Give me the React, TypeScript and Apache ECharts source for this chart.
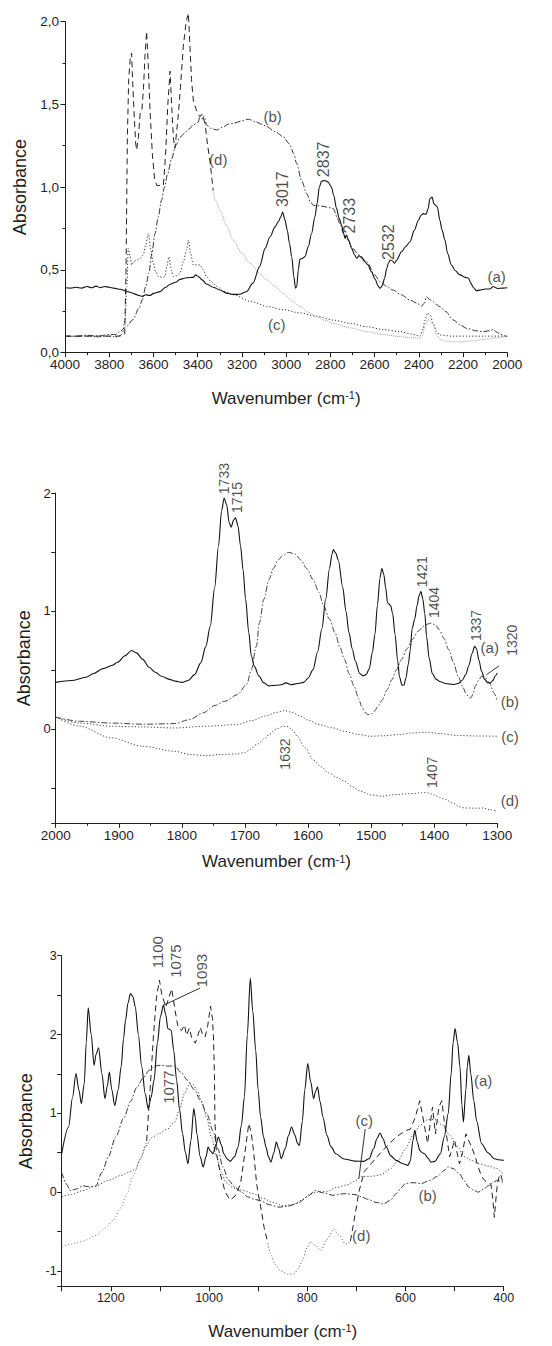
import React, { useEffect, useRef } from "react";
import * as echarts from "echarts";

// ---------- Panel 1 (4000–2000 cm-1) ----------
const p1A: number[][] = [[4000,0.392],[3975,0.39],[3950,0.395],[3925,0.39],[3900,0.4],[3880,0.392],[3860,0.402],[3840,0.393],[3820,0.4],[3800,0.395],[3780,0.39],[3750,0.383],[3720,0.37],[3700,0.362],[3680,0.352],[3665,0.345],[3650,0.34],[3635,0.35],[3616,0.345],[3600,0.358],[3570,0.369],[3545,0.395],[3525,0.413],[3500,0.425],[3480,0.443],[3450,0.453],[3420,0.455],[3410,0.47],[3395,0.458],[3380,0.44],[3360,0.415],[3330,0.395],[3300,0.379],[3270,0.36],[3240,0.352],[3210,0.353],[3180,0.368],[3150,0.42],[3120,0.52],[3095,0.63],[3073,0.7],[3050,0.76],[3036,0.79],[3024,0.82],[3016,0.85],[3005,0.8],[2995,0.74],[2985,0.66],[2975,0.58],[2965,0.46],[2958,0.39],[2952,0.4],[2945,0.5],[2938,0.564],[2925,0.57],[2915,0.58],[2900,0.64],[2885,0.72],[2870,0.82],[2860,0.9],[2850,1.0],[2840,1.035],[2825,1.04],[2810,1.03],[2795,1.0],[2785,0.95],[2772,0.87],[2760,0.81],[2749,0.77],[2740,0.72],[2734,0.69],[2727,0.71],[2718,0.68],[2704,0.63],[2690,0.59],[2681,0.57],[2670,0.585],[2660,0.575],[2645,0.55],[2630,0.53],[2615,0.49],[2598,0.445],[2585,0.405],[2576,0.389],[2565,0.405],[2555,0.45],[2545,0.51],[2538,0.54],[2530,0.56],[2520,0.555],[2510,0.54],[2500,0.56],[2478,0.61],[2460,0.64],[2440,0.67],[2420,0.74],[2402,0.8],[2390,0.83],[2380,0.84],[2368,0.835],[2358,0.87],[2350,0.93],[2340,0.94],[2332,0.9],[2325,0.89],[2316,0.88],[2305,0.8],[2295,0.74],[2282,0.68],[2270,0.6],[2253,0.53],[2235,0.495],[2214,0.47],[2190,0.455],[2175,0.45],[2165,0.42],[2154,0.395],[2140,0.375],[2124,0.378],[2100,0.385],[2078,0.385],[2063,0.4],[2055,0.395],[2045,0.388],[2020,0.39],[2000,0.392]];
const p1B: number[][] = [[4000,0.1],[3950,0.1],[3900,0.105],[3850,0.1],[3800,0.11],[3770,0.11],[3750,0.13],[3720,0.16],[3693,0.2],[3665,0.27],[3650,0.32],[3635,0.4],[3621,0.48],[3607,0.6],[3593,0.72],[3578,0.82],[3564,0.92],[3550,1.0],[3536,1.08],[3518,1.17],[3500,1.25],[3480,1.3],[3464,1.32],[3440,1.35],[3420,1.375],[3400,1.39],[3386,1.435],[3378,1.41],[3371,1.43],[3360,1.375],[3340,1.355],[3314,1.345],[3290,1.36],[3260,1.38],[3239,1.385],[3200,1.4],[3171,1.41],[3140,1.395],[3110,1.38],[3088,1.365],[3050,1.335],[3013,1.304],[2985,1.26],[2965,1.2],[2953,1.144],[2930,1.04],[2907,0.96],[2890,0.91],[2877,0.89],[2840,0.885],[2800,0.875],[2787,0.87],[2770,0.82],[2757,0.78],[2740,0.72],[2720,0.68],[2700,0.63],[2670,0.59],[2636,0.55],[2600,0.47],[2576,0.43],[2545,0.4],[2516,0.378],[2480,0.35],[2440,0.318],[2410,0.3],[2387,0.282],[2375,0.3],[2365,0.338],[2350,0.32],[2335,0.308],[2320,0.29],[2305,0.278],[2280,0.25],[2244,0.197],[2210,0.165],[2184,0.147],[2140,0.132],[2109,0.127],[2080,0.133],[2063,0.14],[2050,0.125],[2030,0.11],[2000,0.097]];
const p1C: number[][] = [[4000,0.1],[3950,0.098],[3900,0.1],[3850,0.095],[3800,0.1],[3770,0.095],[3751,0.097],[3740,0.12],[3729,0.2],[3720,0.4],[3714,0.63],[3705,0.58],[3699,0.53],[3688,0.55],[3676,0.56],[3660,0.57],[3646,0.59],[3635,0.65],[3623,0.72],[3612,0.62],[3601,0.54],[3590,0.49],[3578,0.46],[3560,0.455],[3548,0.46],[3540,0.52],[3530,0.58],[3520,0.5],[3510,0.46],[3495,0.465],[3480,0.48],[3465,0.55],[3450,0.62],[3442,0.68],[3432,0.6],[3420,0.53],[3405,0.53],[3390,0.53],[3375,0.5],[3360,0.46],[3340,0.43],[3314,0.4],[3280,0.37],[3239,0.35],[3160,0.31],[3088,0.28],[3013,0.26],[2938,0.24],[2862,0.22],[2787,0.197],[2710,0.177],[2636,0.157],[2560,0.14],[2486,0.127],[2430,0.112],[2395,0.1],[2380,0.15],[2373,0.197],[2360,0.24],[2350,0.23],[2335,0.18],[2320,0.13],[2305,0.107],[2250,0.1],[2184,0.1],[2100,0.1],[2000,0.1]];
const p1Ddash: number[][] = [[4000,0.1],[3850,0.1],[3760,0.1],[3730,0.11],[3724,0.5],[3718,1.3],[3712,1.65],[3705,1.78],[3699,1.81],[3693,1.6],[3686,1.4],[3680,1.26],[3676,1.224],[3668,1.3],[3660,1.45],[3652,1.47],[3645,1.6],[3638,1.8],[3631,1.94],[3624,1.75],[3615,1.45],[3605,1.2],[3595,1.05],[3585,1.01],[3570,1.01],[3555,1.01],[3545,1.2],[3535,1.5],[3525,1.7],[3518,1.5],[3510,1.3],[3503,1.234],[3490,1.4],[3478,1.6],[3465,1.85],[3452,2.0],[3442,2.05],[3435,1.85],[3428,1.65],[3420,1.526],[3405,1.46],[3390,1.425],[3380,1.44],[3367,1.385],[3355,1.25],[3345,1.164],[3330,0.98]];
const p1Ddot: number[][] = [[3330,0.98],[3320,0.92],[3299,0.86],[3270,0.77],[3239,0.68],[3200,0.6],[3164,0.54],[3120,0.48],[3088,0.44],[3050,0.4],[3013,0.358],[2975,0.315],[2938,0.278],[2900,0.245],[2862,0.217],[2825,0.195],[2787,0.177],[2710,0.15],[2636,0.127],[2560,0.11],[2486,0.097],[2430,0.09],[2395,0.087],[2385,0.1],[2373,0.157],[2360,0.2],[2350,0.197],[2340,0.18],[2335,0.167],[2320,0.11],[2305,0.08],[2280,0.07],[2250,0.066],[2214,0.066],[2150,0.072],[2109,0.08],[2050,0.09],[2000,0.1]];
const p1PeakLabels: [number, number, string][] = [[3017,0.88,"3017"],[2830,1.06,"2837"],[2715,0.72,"2733"],[2535,0.56,"2532"]];
const p1CurveLabels: [number, number, string][] = [[2048,0.463,"(a)"],[3061,1.425,"(b)"],[3043,0.173,"(c)"],[3307,1.164,"(d)"]];
const p1YTicks = { min: 0, max: 2, step: 0.5 };
const p1XTicks = { min: 2000, max: 4000, step: 200 };

// ---------- Panel 2 (2000–1300 cm-1) ----------
const p2A: number[][] = [[2000,0.395],[1975,0.41],[1952,0.438],[1940,0.47],[1925,0.511],[1910,0.54],[1902,0.565],[1890,0.62],[1880,0.665],[1872,0.645],[1862,0.59],[1852,0.523],[1842,0.48],[1832,0.446],[1820,0.42],[1810,0.405],[1800,0.395],[1790,0.41],[1780,0.46],[1770,0.56],[1762,0.7],[1755,0.87],[1748,1.2],[1742,1.548],[1737,1.85],[1733,1.958],[1729,1.9],[1725,1.75],[1722,1.71],[1718,1.77],[1715,1.79],[1711,1.72],[1707,1.55],[1703,1.35],[1699,1.1],[1694,0.82],[1690,0.62],[1685,0.53],[1678,0.45],[1670,0.39],[1662,0.365],[1650,0.37],[1642,0.375],[1635,0.39],[1627,0.375],[1617,0.385],[1607,0.395],[1600,0.43],[1592,0.503],[1585,0.65],[1578,0.85],[1572,1.1],[1566,1.36],[1562,1.48],[1560,1.52],[1556,1.49],[1552,1.43],[1545,1.2],[1540,1.0],[1535,0.814],[1530,0.68],[1525,0.575],[1518,0.47],[1513,0.45],[1508,0.46],[1503,0.51],[1498,0.65],[1494,0.8],[1490,1.05],[1486,1.28],[1483,1.36],[1480,1.31],[1477,1.2],[1474,1.07],[1469,1.045],[1466,0.98],[1462,0.8],[1458,0.58],[1455,0.44],[1451,0.37],[1448,0.37],[1445,0.43],[1441,0.55],[1438,0.67],[1435,0.85],[1431,0.93],[1427,1.05],[1424,1.13],[1421,1.165],[1418,1.1],[1415,0.98],[1412,0.78],[1408,0.6],[1403,0.47],[1397,0.42],[1390,0.4],[1382,0.385],[1375,0.38],[1369,0.377],[1362,0.385],[1356,0.41],[1350,0.46],[1345,0.54],[1340,0.64],[1336,0.7],[1333,0.68],[1329,0.58],[1325,0.49],[1320,0.42],[1315,0.39],[1311,0.39],[1307,0.41],[1303,0.45],[1300,0.475]];
const p2B: number[][] = [[2000,0.1],[1962,0.065],[1912,0.05],[1862,0.04],[1812,0.045],[1787,0.08],[1767,0.135],[1747,0.2],[1732,0.234],[1712,0.29],[1697,0.38],[1690,0.5],[1682,0.7],[1677,0.9],[1670,1.1],[1662,1.266],[1655,1.36],[1647,1.435],[1640,1.47],[1630,1.497],[1620,1.48],[1612,1.435],[1602,1.36],[1592,1.266],[1583,1.16],[1575,1.04],[1566,0.93],[1557,0.814],[1550,0.7],[1542,0.588],[1535,0.47],[1527,0.362],[1520,0.26],[1515,0.192],[1510,0.14],[1505,0.121],[1500,0.125],[1495,0.15],[1488,0.2],[1482,0.249],[1475,0.33],[1467,0.418],[1460,0.5],[1452,0.588],[1443,0.68],[1435,0.757],[1425,0.83],[1417,0.87],[1410,0.89],[1405,0.898],[1398,0.88],[1392,0.842],[1385,0.77],[1377,0.672],[1370,0.57],[1362,0.446],[1355,0.36],[1350,0.305],[1345,0.27],[1342,0.262],[1338,0.3],[1335,0.362],[1330,0.41],[1325,0.446],[1320,0.44],[1312,0.39],[1306,0.31],[1300,0.234]];
const p2C: number[][] = [[2000,0.1],[1962,0.05],[1912,0.023],[1862,0.017],[1812,0.008],[1762,0.023],[1712,0.037],[1690,0.07],[1667,0.11],[1650,0.14],[1637,0.155],[1625,0.14],[1612,0.107],[1600,0.075],[1582,0.037],[1562,0.01],[1542,-0.02],[1522,-0.045],[1502,-0.062],[1480,-0.058],[1457,-0.048],[1435,-0.035],[1412,-0.028],[1390,-0.04],[1362,-0.056],[1330,-0.06],[1300,-0.062]];
const p2D: number[][] = [[2000,0.1],[1962,0.023],[1912,-0.076],[1862,-0.147],[1812,-0.189],[1787,-0.217],[1762,-0.226],[1737,-0.217],[1712,-0.212],[1700,-0.2],[1692,-0.175],[1682,-0.133],[1667,-0.076],[1662,-0.048],[1650,0.0],[1640,0.023],[1632,0.02],[1625,-0.01],[1617,-0.062],[1605,-0.16],[1592,-0.26],[1580,-0.32],[1567,-0.373],[1555,-0.41],[1542,-0.444],[1530,-0.49],[1517,-0.528],[1500,-0.56],[1482,-0.571],[1470,-0.56],[1457,-0.556],[1445,-0.55],[1432,-0.548],[1420,-0.54],[1410,-0.542],[1400,-0.56],[1390,-0.585],[1382,-0.599],[1370,-0.63],[1360,-0.66],[1352,-0.67],[1335,-0.672],[1322,-0.67],[1312,-0.685],[1300,-0.698]];
const p2PeakLabels: [number, number, string][] = [[1733,1.99,"1733"],[1712,1.83,"1715"],[1420,1.2,"1421"],[1400,0.94,"1404"],[1334,0.745,"1337"],[1276,0.62,"1320"],[1636,-0.345,"1632"],[1403,-0.5,"1407"]];
const p2CurveLabels: [number, number, string][] = [[1312,0.69,"(a)"],[1280,0.234,"(b)"],[1280,-0.062,"(c)"],[1280,-0.607,"(d)"]];
const p2Leaders: number[][][] = [[[1280,0.6],[1317,0.46]]];

// ---------- Panel 3 (1300–400 cm-1) ----------
const p3A: number[][] = [[1300,0.487],[1286,0.826],[1278,1.2],[1271,1.504],[1265,1.3],[1260,1.123],[1254,1.377],[1250,1.9],[1246,2.339],[1240,2.0],[1234,1.61],[1230,1.75],[1225,1.83],[1218,1.5],[1212,1.186],[1207,1.35],[1203,1.525],[1198,1.3],[1192,1.1],[1185,1.3],[1179,1.589],[1174,1.95],[1170,2.182],[1165,2.4],[1160,2.52],[1155,2.48],[1150,2.35],[1144,2.0],[1137,1.589],[1130,1.25],[1124,1.059],[1118,1.2],[1112,1.419],[1105,1.9],[1099,2.225],[1093,2.373],[1088,2.25],[1084,2.076],[1077,2.055],[1072,1.8],[1066,1.419],[1060,1.05],[1054,0.742],[1048,0.5],[1043,0.36],[1037,0.65],[1031,1.059],[1028,0.95],[1025,0.742],[1018,0.45],[1012,0.318],[1006,0.45],[1002,0.572],[997,0.52],[992,0.487],[986,0.6],[981,0.7],[975,0.6],[970,0.487],[963,0.42],[957,0.39],[948,0.45],[941,0.572],[934,0.85],[928,1.208],[922,2.0],[916,2.712],[911,2.3],[905,1.8],[900,1.3],[895,0.953],[889,0.7],[884,0.572],[879,0.45],[874,0.381],[868,0.5],[863,0.636],[858,0.55],[853,0.424],[845,0.55],[838,0.72],[832,0.826],[825,0.72],[820,0.62],[816,0.593],[810,0.9],[805,1.3],[799,1.631],[793,1.4],[787,1.186],[783,1.28],[779,1.335],[774,1.15],[768,0.953],[760,0.72],[752,0.58],[742,0.487],[725,0.42],[703,0.394],[685,0.39],[674,0.424],[665,0.55],[658,0.68],[652,0.75],[646,0.68],[639,0.572],[630,0.46],[619,0.403],[605,0.36],[595,0.34],[590,0.4],[585,0.65],[581,0.784],[576,0.64],[571,0.53],[566,0.5],[561,0.487],[554,0.43],[548,0.381],[540,0.39],[529,0.487],[521,0.7],[513,0.996],[507,1.5],[503,1.9],[499,2.076],[494,1.9],[489,1.589],[485,1.1],[482,0.89],[477,1.3],[474,1.6],[471,1.737],[467,1.5],[461,1.165],[455,0.9],[445,0.614],[432,0.5],[419,0.424],[410,0.41],[400,0.403]];
const p3B: number[][] = [[1300,0.25],[1290,0.1],[1283,0.02],[1270,0.04],[1257,0.08],[1245,0.07],[1231,0.07],[1218,0.25],[1205,0.45],[1190,0.7],[1173,0.95],[1160,1.15],[1147,1.33],[1134,1.45],[1121,1.55],[1110,1.6],[1099,1.61],[1085,1.6],[1070,1.6],[1057,1.52],[1044,1.42],[1030,1.3],[1018,1.17],[1005,1.0],[992,0.78],[982,0.55],[972,0.32],[960,0.15],[947,0.06],[934,0.0],[921,-0.06],[908,-0.09],[895,-0.11],[877,-0.16],[858,-0.19],[840,-0.18],[819,-0.14],[800,-0.06],[784,0.02],[766,-0.01],[748,-0.04],[725,-0.02],[703,-0.03],[690,-0.06],[677,-0.09],[660,-0.13],[645,-0.15],[630,-0.1],[619,-0.02],[608,0.06],[600,0.11],[585,0.12],[568,0.11],[550,0.15],[535,0.2],[520,0.28],[513,0.32],[503,0.3],[490,0.23],[480,0.14],[471,0.06],[460,0.02],[452,0.0],[440,0.04],[432,0.08],[420,0.13],[413,0.15],[400,0.12]];
const p3C: number[][] = [[1300,-0.06],[1280,-0.03],[1257,0.02],[1230,0.08],[1205,0.15],[1180,0.21],[1160,0.26],[1148,0.3],[1140,0.42],[1130,0.58],[1115,0.7],[1100,0.75],[1085,0.8],[1070,0.89],[1060,1.05],[1050,1.25],[1040,1.37],[1033,1.37],[1025,1.3],[1015,1.15],[1005,0.95],[995,0.7],[985,0.45],[975,0.25],[965,0.12],[950,0.05],[930,0.02],[910,-0.02],[890,-0.08],[870,-0.13],[850,-0.17],[830,-0.16],[810,-0.1],[795,-0.03],[780,0.0],[760,0.01],[740,0.06],[720,0.09],[700,0.15],[690,0.2],[670,0.2],[650,0.22],[630,0.3],[615,0.4],[600,0.55],[585,0.72],[570,0.85],[555,0.92],[540,0.92],[525,0.85],[510,0.72],[495,0.58],[480,0.45],[465,0.4],[450,0.36],[430,0.33],[415,0.3],[400,0.22]];
const p3Ddot1: number[][] = [[1300,-0.69],[1280,-0.66],[1256,-0.62],[1230,-0.55],[1210,-0.45],[1195,-0.36],[1180,-0.2],[1167,-0.02],[1155,0.2],[1140,0.42],[1127,0.65]];
const p3Ddash1: number[][] = [[1127,0.65],[1120,1.3],[1113,2.0],[1107,2.47],[1101,2.69],[1096,2.5],[1088,2.35],[1080,2.5],[1076,2.58],[1069,2.3],[1063,2.09],[1056,2.05],[1050,2.12],[1046,1.99],[1040,2.08],[1035,1.95],[1028,1.89],[1022,2.0],[1018,2.09],[1012,1.98],[1008,1.97],[1003,2.1],[997,2.36],[993,2.2],[991,1.97],[989,1.5],[988,0.9],[985,0.5],[977,0.23],[967,0.0],[957,-0.1],[947,-0.05],[936,0.1],[927,0.5],[919,0.87],[914,0.75],[909,0.5],[903,0.1],[899,-0.05],[893,-0.25],[888,-0.445],[880,-0.65]];
const p3Ddot2: number[][] = [[880,-0.65],[875,-0.78],[865,-0.92],[854,-1.0],[840,-1.04],[827,-1.04],[818,-0.97],[810,-0.87],[800,-0.7],[793,-0.63],[785,-0.67],[772,-0.74],[760,-0.6],[746,-0.47],[735,-0.55],[722,-0.66],[712,-0.62]];
const p3Ddash2: number[][] = [[712,-0.62],[703,-0.3],[695,0.0],[684,0.26],[670,0.36],[652,0.49],[635,0.6],[619,0.7],[600,0.78],[590,0.8],[580,0.95],[571,1.16],[566,1.0],[561,0.83],[555,0.62],[550,0.85],[545,1.08],[539,0.74],[532,1.08],[526,1.16],[521,0.9],[516,0.7],[510,0.45],[505,0.55],[500,0.66],[495,0.5],[490,0.36],[484,0.5],[477,0.74],[471,0.65],[465,0.57],[458,0.45],[452,0.32],[445,0.2],[439,0.15],[432,0.12],[426,0.1],[422,-0.1],[419,-0.32],[416,-0.1],[413,0.1],[409,0.2],[406,0.23],[403,0.15],[400,0.1]];
const p3PeakLabels: [number, number, string][] = [[1104,2.84,"1100"],[1068,2.72,"1075"],[1015,2.6,"1093"],[1082,1.12,"1077"]];
const p3CurveLabels: [number, number, string][] = [[442,1.42,"(a)"],[555,-0.042,"(b)"],[684,0.91,"(c)"],[690,-0.55,"(d)"]];
const p3Leaders: number[][][] = [[[1018,2.59],[1093,2.37]],[[682,0.8],[695,0.17]]];

const FONT = "'Liberation Sans', Arial, Helvetica, sans-serif";
const INK = "#1e1e1e";
const DASHDOT = [6, 2, 1.5, 2];
const DOT = [1.2, 2];
const DASH = [6, 4];

function line(idx: number, data: number[][], color: string, type: any, width = 1, smooth: number | boolean = 0.3) {
  return {
    type: "line", xAxisIndex: idx, yAxisIndex: idx, data, symbol: "none", showSymbol: false,
    smooth, smoothMonotone: "x", clip: false, silent: true,
    lineStyle: { color, width, type },
  };
}

function labels(idx: number, items: [number, number, string][], rotated: boolean, fontSize: number) {
  return {
    type: "scatter", xAxisIndex: idx, yAxisIndex: idx, symbol: "circle", symbolSize: 1,
    itemStyle: { color: "rgba(0,0,0,0)" }, clip: false, silent: true, z: 10,
    data: items.map(([x, y, t]) => ({
      value: [x, y],
      label: rotated
        ? { show: true, formatter: t, rotate: 90, position: "inside", align: "left", verticalAlign: "middle", fontSize, color: INK, fontFamily: FONT }
        : { show: true, formatter: t, position: "inside", align: "center", verticalAlign: "middle", fontSize, color: INK, fontFamily: FONT },
    })),
  };
}

function leader(idx: number, seg: number[][]) {
  return { type: "line", xAxisIndex: idx, yAxisIndex: idx, data: seg, symbol: "none", clip: false, silent: true,
    lineStyle: { color: INK, width: 0.9, type: "solid" } };
}

const isInt = (v: number) => Math.abs(v - Math.round(v)) < 1e-6;

function xAxis(idx: number, min: number, max: number, step: number, minor: boolean, nameGap: number, fmt: (v: number) => string, fontSize = 13.5) {
  return {
    gridIndex: idx, type: "value", min, max, interval: step, inverse: true,
    axisLine: { show: true, onZero: false, lineStyle: { color: INK, width: 1 } },
    axisTick: { show: true, length: 4.5, lineStyle: { color: INK, width: 1 } },
    minorTick: { show: minor, splitNumber: 2, length: 2.5, lineStyle: { color: INK, width: 1 } },
    axisLabel: { color: INK, fontSize, fontFamily: FONT, margin: 5, formatter: fmt },
    splitLine: { show: false }, minorSplitLine: { show: false },
    name: "Wavenumber (cm{sup|-1})", nameLocation: "middle", nameGap,
    nameTextStyle: { color: INK, fontSize: 17, fontFamily: FONT, rich: { sup: { fontSize: 11, verticalAlign: "top", fontFamily: FONT, color: INK, lineHeight: 14 } } },
  };
}

function yAxis(idx: number, extra: any, nameGap: number, fontSize: number) {
  return {
    gridIndex: idx, type: "value",
    axisLine: { show: true, onZero: false, lineStyle: { color: INK, width: 1 } },
    axisTick: { show: true, length: 4.5, lineStyle: { color: INK, width: 1 } },
    axisLabel: { color: INK, fontSize, fontFamily: FONT, margin: 5 },
    splitLine: { show: false },
    name: "Absorbance", nameLocation: "middle", nameGap,
    nameTextStyle: { color: INK, fontSize: 18, fontFamily: FONT },
    ...extra,
  };
}

const plain = (v: number) => String(Math.round(v));

export default function App() {
  const ref = useRef<HTMLDivElement>(null);
  useEffect(() => {
    if (!ref.current) return;
    const chart = echarts.init(ref.current, null, { renderer: "svg" });
    const option: any = {
      animation: false,
      backgroundColor: "#ffffff",
      grid: [
        { left: 65, top: 21.5, width: 442.3, height: 331.2 },
        { left: 55.7, top: 493, width: 441.6, height: 330.3 },
        { left: 61.7, top: 955.7, width: 442, height: 331 },
      ],
      xAxis: [
        xAxis(0, p1XTicks.min, p1XTicks.max, p1XTicks.step, true, 37, plain),
        xAxis(1, 1300, 2000, 100, true, 30, plain),
        xAxis(2, 400, 1300, 100, false, 36, (v: number) => (Math.round(v) % 200 === 0 ? plain(v) : ""), 12.5),
      ],
      yAxis: [
        yAxis(0, { min: p1YTicks.min, max: p1YTicks.max, interval: p1YTicks.step,
          minorTick: { show: true, splitNumber: 2, length: 2.5, lineStyle: { color: INK } },
          axisLabel: { color: INK, fontSize: 13.5, fontFamily: FONT, margin: 6, formatter: (v: number) => v.toFixed(1).replace(".", ",") } }, 28, 13.5),
        yAxis(1, { min: -0.8, max: 2, minInterval: 0.5, maxInterval: 0.5,
          axisLabel: { color: INK, fontSize: 13, fontFamily: FONT, margin: 5, formatter: (v: number) => (isInt(v) ? String(Math.round(v)) : "") } }, 19, 13),
        yAxis(2, { min: -1.2, max: 3, minInterval: 0.5, maxInterval: 0.5,
          axisLabel: { color: INK, fontSize: 12.5, fontFamily: FONT, margin: 5, formatter: (v: number) => (isInt(v) ? String(Math.round(v)) : "") } }, 24, 12.5),
      ],
      series: [
        line(0, p1C, "#333", DOT),
        line(0, p1Ddot, "#a0a0a0", [1, 1]),
        line(0, p1B, "#333", DASHDOT),
        line(0, p1Ddash, "#222", DASH, 1, false),
        line(0, p1A, "#111", "solid", 1.1),
        labels(0, p1PeakLabels, true, 16),
        labels(0, p1CurveLabels, false, 15),

        line(1, p2C, "#444", DOT),
        line(1, p2D, "#444", DOT),
        line(1, p2B, "#444", DASHDOT),
        line(1, p2A, "#111", "solid", 1.1),
        labels(1, p2PeakLabels, true, 14),
        labels(1, p2CurveLabels, false, 15),
        ...p2Leaders.map((s) => leader(1, s)),

        line(2, p3C, "#444", DOT),
        line(2, p3B, "#333", DASHDOT),
        line(2, p3Ddot1, "#8a8a8a", DOT),
        line(2, p3Ddot2, "#666", DOT),
        line(2, p3Ddash1, "#222", DASH, 1, false),
        line(2, p3Ddash2, "#222", DASH, 1, false),
        line(2, p3A, "#111", "solid", 1.1),
        labels(2, p3PeakLabels, true, 15),
        labels(2, p3CurveLabels, false, 15),
        ...p3Leaders.map((s) => leader(2, s)),
      ],
    };
    chart.setOption(option);
    return () => chart.dispose();
  }, []);
  return (
    <div
      ref={ref}
      style={{ position: "absolute", left: 0, top: 0, width: 552, height: 1346, background: "#fff" }}
    />
  );
}
